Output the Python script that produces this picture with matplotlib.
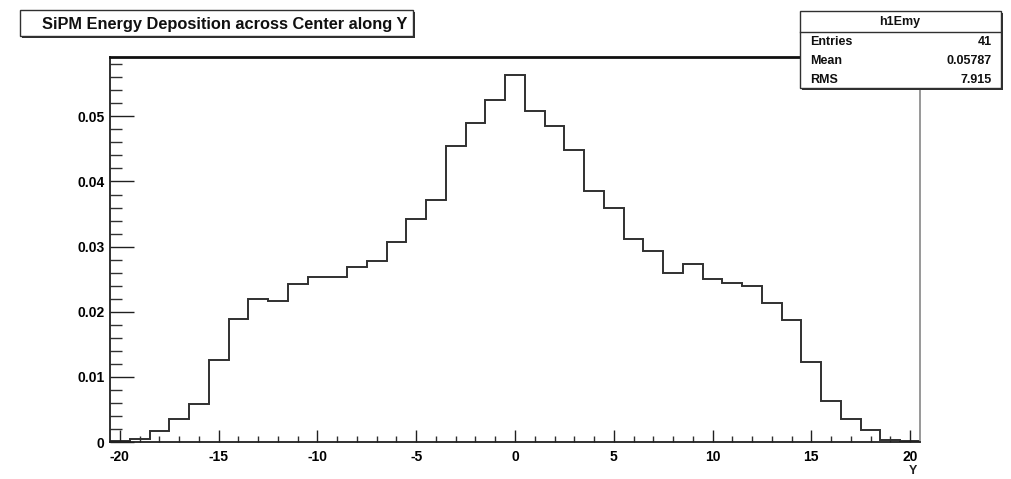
import numpy as np
import matplotlib
matplotlib.use("Agg")
import matplotlib.pyplot as plt
from matplotlib.patches import Rectangle
from matplotlib.ticker import MultipleLocator

# Histogram h1Emy: 41 unit-width bins centred on -20 ... 20
bin_centers = list(range(-20, 21))
bin_values = [
    0.0002, 0.0005, 0.0017, 0.0036, 0.0058, 0.0126, 0.0189, 0.0219, 0.0217, 0.0242,
    0.0253, 0.0254, 0.0269, 0.0278, 0.0307, 0.0342, 0.0371, 0.0454, 0.0490, 0.0525,
    0.0563,
    0.0509, 0.0485, 0.0449, 0.0386, 0.0359, 0.0311, 0.0294, 0.0259, 0.0273, 0.0251,
    0.0244, 0.0240, 0.0214, 0.0188, 0.0123, 0.0063, 0.0035, 0.0019, 0.0003, 0.0001,
]
title = "SiPM Energy Deposition across Center along Y"
stats_name = "h1Emy"
stats_rows = [("Entries", "41"), ("Mean", "0.05787"), ("RMS", "7.915")]
y_ticks = [0, 0.01, 0.02, 0.03, 0.04, 0.05]
y_tick_labels = ["0", "0.01", "0.02", "0.03", "0.04", "0.05"]
x_ticks = [-20, -15, -10, -5, 0, 5, 10, 15, 20]
x_tick_labels = ["-20", "-15", "-10", "-5", "0", "5", "10", "15", "20"]

W, H = 1012, 479
FONT = ["Liberation Sans", "DejaVu Sans"]
plt.rcParams["font.family"] = FONT
plt.rcParams["font.weight"] = "bold"

fig = plt.figure(figsize=(W / 100, H / 100), dpi=100)
fig.patch.set_facecolor("white")


def fx(px):
    return px / W


def fy(py):
    return 1 - py / H


# Frame in pixel coordinates
left, right, top, bottom = 110, 920, 57, 442
ax = fig.add_axes([fx(left), fy(bottom), fx(right - left), (bottom - top) / H])

edges = np.arange(bin_centers[0] - 0.5, bin_centers[-1] + 1.0, 1.0)
ax.stairs(bin_values, edges, color="#303030", linewidth=1.4, baseline=None)

ax.set_xlim(edges[0], edges[-1])
ax.set_ylim(0, max(bin_values) * 1.05)

ax.set_yticks(y_ticks, y_tick_labels)
ax.set_xticks(x_ticks, x_tick_labels)
ax.yaxis.set_minor_locator(MultipleLocator(0.002))
ax.xaxis.set_minor_locator(MultipleLocator(1))
ax.tick_params(axis="y", which="major", direction="in", length=17, width=1.0,
               pad=4, labelsize=10, color="#202020")
ax.tick_params(axis="y", which="minor", direction="in", length=8.5, width=1.0,
               color="#303030")
ax.tick_params(axis="x", which="major", direction="in", length=8.5, width=1.0,
               pad=6, labelsize=10, color="#202020")
ax.tick_params(axis="x", which="minor", direction="in", length=4.3, width=1.0,
               color="#303030")
for lab in ax.get_xticklabels() + ax.get_yticklabels():
    lab.set_fontweight("bold")

ax.spines["top"].set_linewidth(2.0)
ax.spines["top"].set_color("#101010")
ax.spines["left"].set_color("#202020")
ax.spines["left"].set_linewidth(1.3)
ax.spines["bottom"].set_color("#202020")
ax.spines["bottom"].set_linewidth(1.3)
ax.spines["right"].set_color("#909090")
ax.spines["right"].set_linewidth(1.3)

fig.text(fx(913), fy(471), "Y", ha="center", va="center", fontsize=9,
         fontweight="bold", color="#202020")


def boxed(x0, y0, x1, y1, zorder=5):
    # shadow then white box with a dark border
    fig.patches.append(Rectangle((fx(x0 + 2), fy(y1 + 2)), fx(x1 - x0), (y1 - y0) / H,
                                 transform=fig.transFigure, facecolor="#303030",
                                 edgecolor="none", zorder=zorder))
    fig.patches.append(Rectangle((fx(x0), fy(y1)), fx(x1 - x0), (y1 - y0) / H,
                                 transform=fig.transFigure, facecolor="white",
                                 edgecolor="#303030", linewidth=1.0, zorder=zorder + 0.1))


# Title box
boxed(20, 10, 413, 36)
fig.text(fx(42), fy(24), title, ha="left", va="center", fontsize=11.8,
         fontweight="bold", color="#101010", zorder=7)

# Statistics box
sx0, sx1, sy0, sy1 = 800, 1001, 11, 88
boxed(sx0, sy0, sx1, sy1)
fig.add_artist(plt.Line2D([fx(sx0), fx(sx1)], [fy(32), fy(32)], transform=fig.transFigure,
                          color="#303030", linewidth=1.0, zorder=7))
fig.text(fx(900), fy(22), stats_name, ha="center", va="center", fontsize=9,
         fontweight="bold", color="#101010", zorder=7)
for i, (k, v) in enumerate(stats_rows):
    yy = fy(42 + 19 * i)
    fig.text(fx(810), yy, k, ha="left", va="center", fontsize=9,
             fontweight="bold", color="#101010", zorder=7)
    fig.text(fx(992), yy, v, ha="right", va="center", fontsize=9,
             fontweight="bold", color="#101010", zorder=7)

fig.savefig("out.png", dpi=100, facecolor="white")
